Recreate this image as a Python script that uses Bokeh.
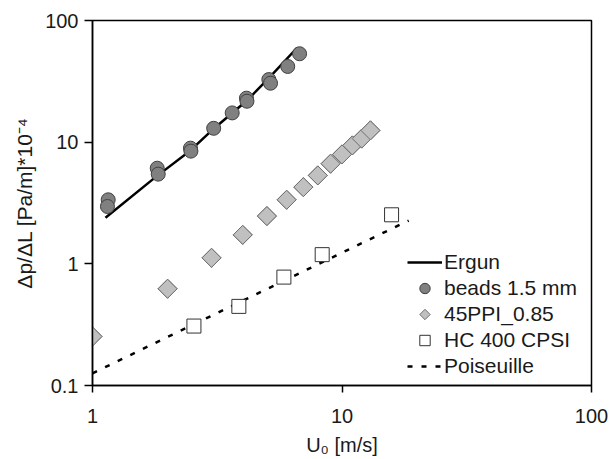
import math
from bokeh.plotting import figure
from bokeh.models import (Range1d, FixedTicker, CustomJSTickFormatter, Legend, LegendItem)
from bokeh.embed import file_html
from bokeh.resources import INLINE

# ---- data ----
ergun_u = [1.127, 1.789, 2.47, 3.06, 4.16, 5.09, 6.61]
ergun_dp = [2.39, 5.16, 8.55, 12.9, 22.0, 33.6, 59.7]

beads_u = [1.156, 1.148, 1.817, 1.834, 2.47, 2.48, 3.06, 3.63, 4.14, 4.16, 5.09, 5.17, 6.06, 6.76]
beads_dp = [3.36, 2.96, 6.11, 5.46, 8.93, 8.44, 13.0, 17.4, 23.0, 21.7, 32.7, 30.5, 41.9, 53.3]

ppi_u = [1.0, 2.0, 3.0, 4.0, 5.0, 6.0, 7.0, 8.0, 9.0, 10.0, 11.0, 12.0, 13.0]
ppi_dp = [0.253, 0.624, 1.12, 1.73, 2.47, 3.36, 4.27, 5.33, 6.65, 7.93, 9.4, 10.7, 12.5]

hc_u = [2.55, 3.86, 5.85, 8.33, 15.8]
hc_dp = [0.308, 0.447, 0.778, 1.19, 2.53]

pois_u = [1.0, 18.5]
pois_dp = [0.126, 2.27]

x_ticks = [1, 10, 100]
y_ticks = [0.1, 1, 10, 100]

FONT = "Liberation Sans"

p = figure(frame_width=499, frame_height=365, x_axis_type="log", y_axis_type="log",
           x_range=Range1d(1, 100), y_range=Range1d(0.1, 100),
           output_backend="svg", toolbar_location=None,
           min_border_left=92, min_border_right=18, min_border_top=20, min_border_bottom=74)
p.background_fill_color = "white"
p.border_fill_color = "white"
p.outline_line_color = "black"
p.outline_line_width = 1.5
p.grid.visible = False

r_ergun = p.line(ergun_u, ergun_dp, line_color="black", line_width=2.5)
r_pois = p.line(pois_u, pois_dp, line_color="black", line_width=2.5, line_dash="5 9")
r_beads = p.scatter(beads_u, beads_dp, marker="circle", size=14,
                    fill_color="#808080", line_color="#404040", line_width=1)
r_ppi = p.scatter(ppi_u, ppi_dp, marker="square", size=13.5, angle=math.pi / 4,
                  fill_color="#c0c0c0", line_color="#707070", line_width=1)
r_hc = p.scatter(hc_u, hc_dp, marker="square", size=14,
                 fill_color="white", line_color="#333333", line_width=1)

ppi_legend_renderers = [r_ppi]
try:
    r_ngon = p.ngon(x=ppi_u, y=ppi_dp, radius=9.5, radius_units="screen", n=4,
                    fill_color="#c0c0c0", line_color="#707070", line_width=1)
    ppi_legend_renderers = [r_ngon]
except Exception:
    pass

fmt = CustomJSTickFormatter(code="return tick.toString();")
for ax, ticks in ((p.xaxis[0], x_ticks), (p.yaxis[0], y_ticks)):
    ax.ticker = FixedTicker(ticks=ticks, minor_ticks=[])
    ax.formatter = fmt
    ax.axis_line_color = "black"
    ax.axis_line_width = 1.5
    ax.major_tick_line_color = "black"
    ax.major_tick_line_width = 1.5
    ax.major_tick_in = 0
    ax.minor_tick_line_color = None
    ax.major_label_text_font = FONT
    ax.major_label_text_font_size = "20px"
    ax.major_label_text_color = "#1a1a1a"
    ax.axis_label_text_font = FONT
    ax.axis_label_text_font_size = "20px"
    ax.axis_label_text_font_style = "normal"
    ax.axis_label_text_color = "#1a1a1a"

p.xaxis.major_tick_out = 7
p.xaxis.major_label_standoff = 16
p.xaxis.axis_label = "U₀ [m/s]"
p.xaxis.axis_label_standoff = 8
p.yaxis.major_tick_out = 8
p.yaxis.major_label_standoff = 6
p.yaxis.axis_label = "Δp/ΔL [Pa/m]*10⁻⁴"
p.yaxis.axis_label_text_font_size = "21px"
p.yaxis.axis_label_standoff = 6

legend = Legend(items=[
    LegendItem(label="Ergun", renderers=[r_ergun]),
    LegendItem(label="beads 1.5 mm", renderers=[r_beads]),
    LegendItem(label="45PPI_0.85", renderers=ppi_legend_renderers),
    LegendItem(label="HC 400 CPSI", renderers=[r_hc]),
    LegendItem(label="Poiseuille", renderers=[r_pois]),
], location=(315, 6))
legend.padding = 0
legend.margin = 0
legend.border_line_alpha = 0
legend.background_fill_alpha = 0
legend.glyph_width = 35
legend.glyph_height = 26
legend.label_height = 26
legend.spacing = 0
legend.label_standoff = 2
legend.label_text_font = FONT
legend.label_text_font_size = "21px"
legend.label_text_color = "#1a1a1a"
p.add_layout(legend)

open("out.html", "w").write(file_html(p, INLINE))
